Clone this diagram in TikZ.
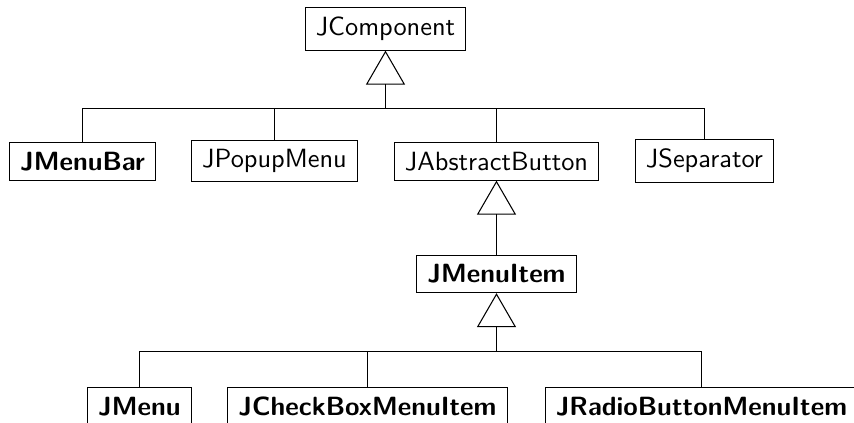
\documentclass[tikz,border=0pt]{standalone}
\usetikzlibrary{arrows.meta,positioning}

\begin{document}
\begin{tikzpicture}[
class/.style={draw,font=\sffamily,inner xsep=4pt,inner ysep=3.5pt},
bclass/.style={class,font=\sffamily\bfseries},
inherit/.style={-{Triangle[open,length=0.453cm,width=0.52cm]}},]
\useasboundingbox (0,0) rectangle (11.387,5.64);
\node[class]  (comp)     at (5.14,5.253)  {JComponent};
\node[bclass] (bar)      at (1.10,3.487)  {JMenuBar};
\node[class]  (popup)    at (3.66,3.493)  {JPopupMenu};
\node[class]  (abstract) at (6.62,3.487)  {JAbstractButton};
\node[class]  (sep)      at (9.393,3.493) {JSeparator};
\node[bclass] (item)     at (6.62,1.987)  {JMenuItem};
\node[bclass] (menu)     at (1.86,0.22)   {JMenu};
\node[bclass] (check)    at (4.90,0.22)   {JCheckBoxMenuItem};
\node[bclass] (radio)    at (9.353,0.22)  {JRadioButtonMenuItem};

% JComponent subclasses
\coordinate (top) at (comp.south |- 0,4.1933);
\draw[inherit] (top) -- (comp.south);
\draw (bar.north) |- (top) -| (sep.north);
\foreach \c in {popup,abstract}
  \draw (\c.north) -- (\c.north |- top);

\draw[inherit] (item.north) -- (abstract.south);

% JMenuItem subclasses
\coordinate (low) at (item.south |- 0,0.9533);
\draw[inherit] (low) -- (item.south);
\draw (menu.north) |- (low) -| (radio.north);
\draw (check.north) -- (check.north |- low);
\end{tikzpicture}
\end{document}
